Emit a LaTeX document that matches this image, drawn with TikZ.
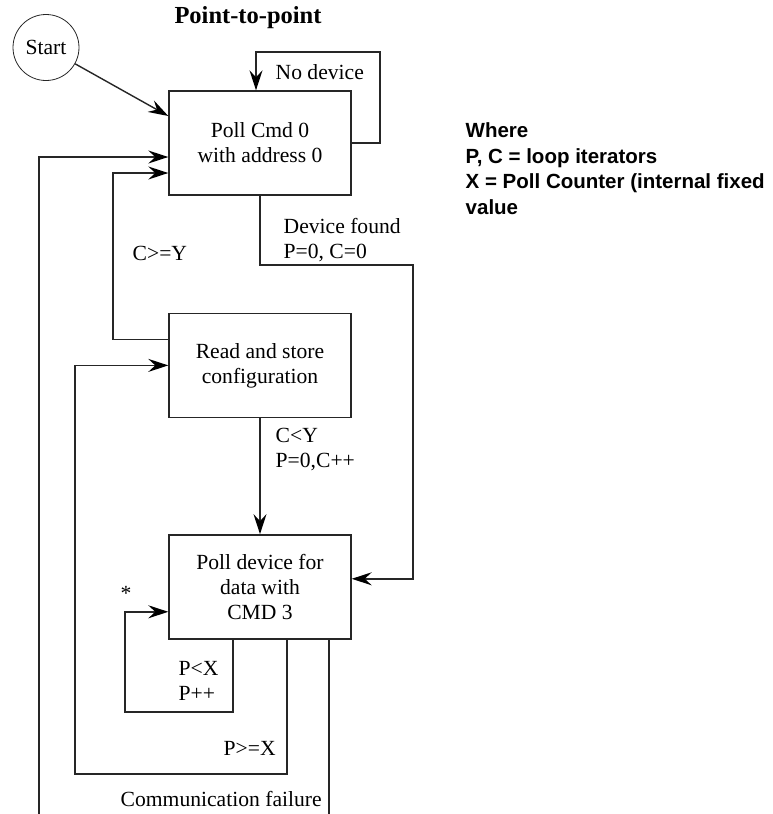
\documentclass[tikz,border=0pt]{standalone}
\usepackage{fontspec}
\setmainfont{Liberation Serif}
\newfontfamily\wherefont{Liberation Sans}
\usepackage{tikz}
\usetikzlibrary{positioning}
\usetikzlibrary{arrows.meta}
\begin{document}
\begin{tikzpicture}[x=1pt, y=-1pt, line width=1.4pt, black!85,
  every node/.style={text=black, font=\fontsize{21.6}{25}\selectfont},
  box/.style={draw, minimum width=182pt, minimum height=104pt, align=center},
  lbl/.style={anchor=west, inner sep=0pt, align=left},
  arr/.style={-{Stealth[length=20pt, width=13pt, inset=7pt, black]}}]
\useasboundingbox (0,0) rectangle (772,814);

\node (title) at (248,18) {\fontsize{24.5}{28}\selectfont\bfseries Point-to-point};
\node (start) [circle, draw, line width=0.8pt, minimum size=66pt, inner sep=0pt] at (46,47.5) {Start};

\node (box1) [box] at (260,143) {Poll Cmd 0\\with address 0};
\node (box2) [box, below=117pt of box1] {Read and store\\configuration};
\node (box3) [box, below=116pt of box2] {Poll device for\\data with\\CMD 3};

\coordinate (nodev) at (380,52);
\coordinate (outer) at (39,814);
\coordinate (cge)   at (113,173);
\coordinate (devf)  at (413,265);
\coordinate (pge)   at (75,774);
\coordinate (plx)   at (125,712);
\coordinate (commf) at (329,814);

\draw[arr] (start) -- ([yshift=27pt]box1.west);
\draw[arr] (box1.east) -| (nodev) -| ([xshift=-4pt]box1.north);
\draw[arr] (outer) |- ([yshift=-14pt]box1.west);
\draw[arr] ([yshift=26pt]box2.west) -| (cge) -- ([yshift=-30pt]box1.west);
\draw[arr] (box1.south) |- (devf) |- ([yshift=8pt]box3.east);
\draw[arr] (box2) -- (box3);
\draw[arr] ([xshift=27pt]box3.south) |- (pge) |- (box2.west);
\draw[arr] ([xshift=-27pt]box3.south) |- (plx) |- ([yshift=-25pt]box3.west);
\draw (commf) -- (commf |- box3.south);

\node (nodevl) [lbl] at (275,72) {No device};
\node (devfl)  [lbl] at (283,240) {Device found\\P=0, C=0};
\node (cgel)   [lbl] at (132,253) {C>=Y};
\node (cltl)   [lbl] at (275,450) {C<Y\\P=0,C++};
\node (star)   [lbl] at (120,593) {*};
\node (plxl)   [lbl] at (178,681) {P<X\\P++};
\node (pgel)   [lbl] at (223,748) {P>=X};
\node (commfl) [lbl] at (120,799) {Communication failure};

\node (where) [lbl, anchor=north west, font=\wherefont\bfseries\fontsize{20.5}{25.5}\selectfont] at (465,122)
  {Where\\P, C = loop iterators\\X = Poll Counter (internal fixed\\value};
\end{tikzpicture}
\end{document}
